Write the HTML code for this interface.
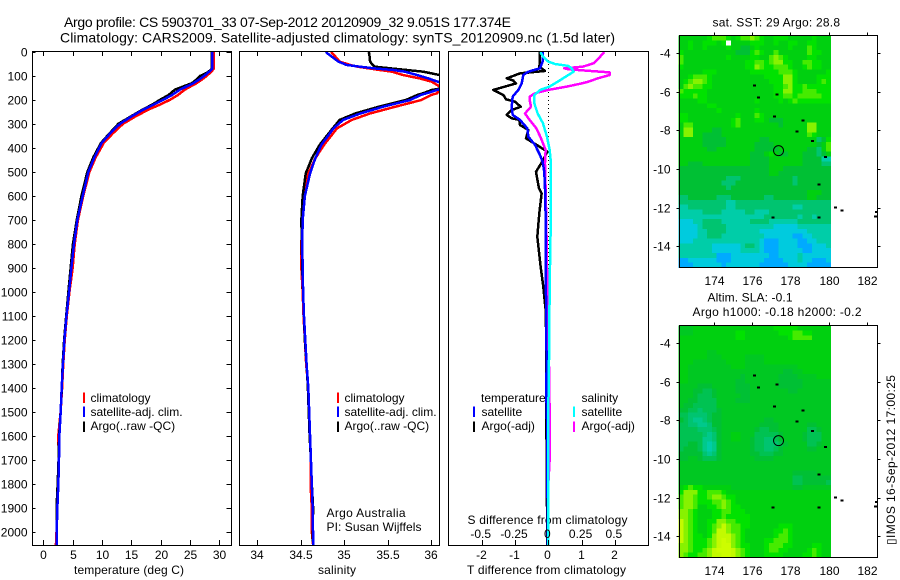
<!DOCTYPE html>
<html><head><meta charset="utf-8"><title>Argo profile</title>
<style>
html,body{margin:0;padding:0;background:#fff}
svg{display:block}
text{font-family:"Liberation Sans","DejaVu Sans",sans-serif;font-size:12px;fill:#000}
</style></head>
<body>
<svg id="chart" xmlns="http://www.w3.org/2000/svg" width="900" height="580" viewBox="0 0 900 580">
<rect width="900" height="580" fill="#fff"/>
<text x="64" y="27" style="font-size:14px" textLength="447">Argo profile: CS 5903701_33 07-Sep-2012 20120909_32 9.051S 177.374E</text>
<text x="60" y="42.5" style="font-size:14px" textLength="555">Climatology: CARS2009. Satellite-adjusted climatology: synTS_20120909.nc (1.5d later)</text>
<text x="74" y="574" textLength="110">temperature (deg C)</text>
<text x="318" y="574" textLength="38">salinity</text>
<text x="467" y="574" textLength="159">T difference from climatology</text>
<text x="467.5" y="524" textLength="160">S difference from climatology</text>
<text x="326.5" y="517" textLength="79">Argo Australia</text>
<text x="326.5" y="531" textLength="95">PI: Susan Wijffels</text>
<text x="712.5" y="26.5" textLength="127.5">sat. SST: 29 Argo: 28.8</text>
<text x="707.5" y="301.5" textLength="85">Altim. SLA: -0.1</text>
<text x="692.5" y="316" textLength="169">Argo h1000: -0.18 h2000: -0.2</text>
<text transform="translate(895,545) rotate(-90)" x="0" y="0" textLength="170">▯IMOS 16-Sep-2012 17:00:25</text>
</svg>
<script>
// ---------- profile data ----------
const depthTicks = [0,100,200,300,400,500,600,700,800,900,1000,1100,1200,1300,1400,1500,1600,1700,1800,1900,2000];
const tempTicks = [0,5,10,15,20,25,30];
const salTicks = [34,34.5,35,35.5,36];
const salTickLabels = ['34','34.5','35','35.5','36'];
const tDiffTicks = [-2,-1,0,1,2];
const sDiffTicks = [-0.5,-0.25,0,0.25,0.5];
const sDiffTickLabels = ['-0.5','-0.25','0','0.25','0.5'];

const tempDepths = [0,30,60,70,85,100,115,130,157,180,199,220,240,270,299,340,379,440,500,600,700,800,900,1000,1100,1200,1300,1400,1500,1600,1700,1800,1900,2000,2054];
const tempClim = [29.05,29.05,29.05,29.05,28.5,27.8,27.0,26.1,24.1,22.9,21.6,19.8,17.9,15.6,13.6,11.8,10.3,8.9,7.85,6.8,5.9,5.35,5.0,4.45,4.0,3.65,3.4,3.2,2.95,2.55,2.65,2.5,2.35,2.25,2.15];
const tempArgo = [28.7,28.7,28.7,28.7,28.0,26.7,26.1,25.3,22.4,21.3,19.9,18.5,16.9,14.8,12.8,11.25,9.83,8.5,7.5,6.5,5.7,5.05,4.66,4.27,3.9,3.55,3.3,3.15,2.95,2.7,2.6,2.45,2.25,2.25,2.25];
const tempSat = [28.8,28.8,28.8,28.8,28.11,27.38,26.53,25.56,23.29,21.87,20.45,18.75,17.04,14.94,13.07,11.36,9.94,8.69,7.67,6.71,5.8,5.23,4.78,4.38,3.95,3.6,3.35,3.13,2.96,2.73,2.67,2.56,2.39,2.28,2.28];

const salDepths = [0,6,40,54,61,68,75,82,96,110,124,144,158,172,178,200,228,256,283,318,387,443,506,600,700,800,900,1000,1100,1200,1300,1400,1500,1600,1700,1800,1900,2000,2054];
const salClim = [34.85,34.87,34.95,35.07,35.15,35.28,35.41,35.55,35.68,35.87,36.01,36.10,36.10,36.07,36.01,35.89,35.59,35.30,35.09,34.92,34.77,34.67,34.59,34.54,34.52,34.51,34.51,34.525,34.535,34.55,34.565,34.59,34.595,34.61,34.62,34.615,34.63,34.63,34.645];
const salArgo = [35.28,35.29,35.30,35.33,35.35,35.53,35.72,35.91,36.10,36.33,36.41,36.26,36.01,35.91,35.85,35.71,35.40,35.13,34.95,34.87,34.72,34.63,34.56,34.525,34.51,34.515,34.52,34.53,34.54,34.55,34.57,34.585,34.595,34.605,34.62,34.63,34.645,34.64,34.645];
const salSat = [34.79,34.81,34.935,35.03,35.18,35.34,35.57,35.70,35.84,35.97,36.08,36.22,36.07,35.95,35.89,35.76,35.45,35.19,34.99,34.88,34.74,34.67,34.61,34.55,34.525,34.52,34.525,34.53,34.54,34.555,34.57,34.59,34.60,34.61,34.62,34.63,34.64,34.644,34.647];

const tDiffArgoDepths = [0,40,61,79,89,110,119,131,158,179,197,207,228,242,262,276,283,304,325,360,387,415,450,499,568,589,672,769,894,978,1075,1200,1500,2054];
const tDiffArgo = [-0.25,-0.25,-0.27,-0.10,-0.85,-1.25,-1.05,-0.97,-1.65,-1.35,-1.27,-1.0,-0.83,-1.10,-1.25,-1.10,-0.87,-0.85,-0.60,-0.67,-0.35,-0.03,-0.15,-0.37,-0.28,-0.2,-0.27,-0.33,-0.23,-0.15,-0.08,-0.06,-0.06,-0.03];
const tDiffSatDepths = [0,40,68,82,96,131,158,186,228,262,283,318,353,387,429,457,500,600,800,1000,1300,1400,1500,1550,2054];
const tDiffSat = [-0.17,-0.17,-0.25,-0.60,-0.75,-0.80,-0.90,-1.07,-1.10,-1.07,-0.85,-0.63,-0.60,-0.40,-0.25,-0.17,-0.12,-0.09,-0.07,-0.07,-0.05,-0.06,-0.05,-0.03,-0.02];
const sDiffArgoDepths = [0,19,47,61,68,72,85,96,110,124,131,144,158,172,186,200,228,256,276,318,353,408,464,575,700,900,1100,1300,1500,1600,1700,1800,2054];
const sDiffArgo = [0.42,0.39,0.34,0.26,0.12,0.15,0.46,0.46,0.37,0.30,0.25,0.14,0,-0.10,-0.14,-0.14,-0.13,-0.175,-0.15,-0.09,-0.06,-0.02,-0.025,-0.02,-0.015,-0.01,0,0.005,0.01,0.012,0.01,0,0];
const sDiffSatDepths = [0,19,40,50,58,68,82,96,117,144,158,179,214,256,297,353,408,464,575,700,800,1000,1300,1500,2054];
const sDiffSat = [-0.06,-0.04,0,0.05,0.15,0.175,0.19,0.15,0.09,0.01,-0.06,-0.105,-0.105,-0.08,-0.04,-0.01,0.01,0.02,0.02,0.02,0.015,0.01,0.005,0,0];

// ---------- map data ----------
const mapLonTicks = [174,176,178,180,182];
const mapLatTicks = [-4,-6,-8,-10,-12,-14];
const floatLon = 177.374;
const floatLat = -9.051;
const islandLons = [176.10,177.29,176.31,177.15,178.67,178.34,179.17,179.85,179.51,177.07,179.5,180.37,180.71,182.46,182.51];
const islandLats = [-5.67,-6.14,-6.31,-7.29,-7.48,-8.05,-8.55,-9.38,-10.79,-12.5,-12.5,-12.0,-12.16,-12.47,-12.23];

// colour levels per 0.25 degree cell, north to south (null = no data)
const sstGrid = [
[5,5,5,5,5,5,6,7,7,7,6,5,6,7,7,8,7,6,5,5,6,6,6,5,5,5,5,5,6,5,5,5],
[5,5,6,5,5,6,6,6,5,6,null,5,5,5,5,6,6,6,5,5,6,5,5,6,6,5,5,6,6,5,5,5],
[5,5,6,5,5,6,5,5,5,5,6,5,5,4,4,5,6,5,5,5,5,5,5,6,5,5,5,7,6,5,5,5],
[6,5,5,5,5,5,5,5,5,5,5,5,4,4,4,6,7,6,5,5,7,5,5,5,5,5,5,7,6,6,5,5],
[7,5,5,5,5,5,5,5,5,5,6,5,5,5,5,6,6,5,5,7,8,7,6,5,5,5,5,6,6,5,5,5],
[7,5,5,5,5,5,5,5,5,5,5,5,5,5,6,6,7,7,6,7,8,8,6,6,5,5,7,7,6,6,5,5],
[6,5,5,5,5,5,5,5,5,5,5,5,5,5,6,6,8,7,6,6,7,7,7,6,5,5,6,7,6,6,5,5],
[5,5,5,5,5,6,6,6,5,5,5,5,5,5,5,6,6,6,6,6,6,7,7,7,6,5,5,5,5,5,5,6],
[5,5,6,7,7,7,6,5,5,5,5,5,5,5,5,5,5,5,6,6,6,6,8,8,6,5,5,5,5,6,6,6],
[5,6,7,8,8,7,6,5,5,5,5,5,5,5,5,5,5,5,5,6,6,6,8,8,6,5,5,5,5,6,7,6],
[5,7,8,7,7,6,6,5,5,5,5,5,5,5,5,5,5,5,5,5,6,6,7,8,6,6,7,6,6,6,6,6],
[7,6,6,6,6,6,5,5,5,5,5,5,5,5,5,5,5,5,5,5,6,6,8,8,6,6,7,7,7,6,6,6],
[6,6,6,7,6,6,5,5,5,5,5,5,5,5,5,5,5,5,5,5,6,6,7,7,6,7,7,7,7,7,6,6],
[5,5,5,5,6,6,5,5,5,5,5,5,5,5,5,5,6,5,5,5,5,6,5,6,7,6,6,6,6,6,6,6],
[5,5,5,5,5,5,6,6,5,5,5,5,5,5,5,5,5,5,5,5,5,5,5,5,5,5,5,5,5,5,5,5],
[5,5,5,5,5,5,5,5,6,5,5,5,5,5,5,5,6,5,5,5,5,5,5,5,5,5,5,5,5,5,5,5],
[6,6,5,5,5,5,5,5,5,5,5,5,6,5,5,5,7,6,5,5,5,5,5,5,5,5,5,5,5,5,5,5],
[6,6,5,5,5,5,5,5,5,5,5,6,7,5,5,5,6,6,5,4,4,4,5,5,5,5,5,5,5,5,5,5],
[5,7,7,5,5,5,5,5,5,5,5,6,7,5,5,5,5,5,5,5,5,4,5,5,5,5,5,8,8,5,5,5],
[5,8,8,5,5,5,5,4,4,5,5,5,5,5,5,5,5,5,5,5,5,5,5,5,5,5,5,8,8,5,5,5],
[5,8,8,5,5,4,4,4,4,5,5,5,5,5,5,5,5,5,5,5,5,5,5,5,5,5,5,7,6,5,5,5],
[5,5,5,5,5,4,4,4,4,4,5,5,5,5,5,5,5,4,4,5,5,5,5,5,5,5,5,5,5,3,4,6],
[5,5,5,5,5,4,4,4,4,4,5,5,5,5,5,5,4,4,4,4,5,5,5,5,5,5,5,5,5,4,5,7],
[5,5,5,5,5,5,4,4,5,5,5,5,5,5,5,5,4,4,4,4,4,5,5,5,5,5,5,4,4,3,5,7],
[5,5,5,5,5,5,5,5,5,5,5,5,5,5,5,4,4,4,5,6,5,4,4,5,5,5,4,4,4,3,4,5],
[5,5,5,5,5,5,5,5,5,5,5,5,5,5,5,4,4,4,4,5,5,5,5,5,5,5,4,4,4,4,2,2],
[5,5,4,4,4,5,5,5,5,5,5,5,5,5,5,4,4,4,4,5,5,5,5,5,5,5,4,4,4,4,3,3],
[4,4,4,4,4,4,4,4,4,4,4,4,4,4,4,4,4,4,4,5,5,5,4,4,4,4,4,4,4,4,4,4],
[4,4,4,4,4,4,4,4,4,4,4,4,4,4,4,4,4,4,4,5,5,4,4,4,4,4,4,4,4,4,4,4],
[4,4,4,4,4,4,4,4,4,4,3,3,3,4,4,4,4,4,4,4,4,4,4,4,3,4,4,4,4,4,4,4],
[4,4,4,4,4,4,4,4,4,3,3,3,4,4,4,4,4,4,4,4,4,4,4,4,3,4,4,4,4,4,4,4],
[4,4,4,4,4,4,4,4,4,4,3,4,4,4,4,4,4,4,4,4,4,4,4,4,4,4,4,4,4,4,4,4],
[4,4,4,4,4,4,4,4,4,4,4,4,4,4,4,4,4,4,4,4,4,4,4,4,4,4,4,5,5,5,4,4],
[3,3,4,4,4,4,4,4,3,3,3,4,4,4,4,4,4,4,3,3,4,4,4,4,4,4,4,5,5,4,4,4],
[3,3,3,3,3,3,3,3,3,3,2,2,3,3,3,3,3,3,3,3,3,3,3,3,3,3,3,3,3,3,3,3],
[2,2,3,3,3,3,3,3,3,3,2,2,3,3,3,3,3,3,3,3,3,3,3,3,2,2,3,3,3,3,3,3],
[2,2,2,2,2,3,3,3,3,2,2,2,2,2,3,3,2,2,2,3,3,3,3,3,3,3,3,3,3,3,3,3],
[2,2,2,2,2,2,2,2,2,2,2,2,2,2,2,2,2,2,3,3,3,3,3,3,3,2,3,3,2,3,3,3],
[1,1,1,2,2,3,3,3,3,2,2,2,2,2,2,3,3,3,3,2,2,2,2,2,2,3,3,3,3,3,3,3],
[1,1,1,1,2,3,3,3,3,3,2,2,2,2,2,2,2,2,2,2,1,1,1,1,1,2,2,2,2,2,2,2],
[1,1,1,1,2,2,3,3,3,3,2,2,2,2,2,2,2,1,1,1,1,1,1,1,1,1,1,2,2,2,2,2],
[1,1,1,1,2,2,3,3,3,2,2,2,2,2,2,2,2,2,1,1,1,1,1,1,0,0,1,1,2,2,2,2],
[1,1,1,2,2,2,2,2,2,2,2,2,2,2,2,2,2,1,0,0,0,1,1,1,1,0,0,1,1,2,2,2],
[2,2,2,2,2,2,2,1,1,1,1,1,1,2,3,3,2,1,0,0,0,1,1,1,1,0,0,0,1,1,1,2],
[2,2,2,2,2,2,2,1,1,1,1,1,1,2,2,2,2,1,0,0,0,1,1,1,1,1,0,0,1,1,1,1],
[2,2,2,2,2,2,2,2,0,0,0,1,1,1,1,1,1,1,1,0,0,1,1,1,1,2,1,1,1,1,1,1],
[0,0,1,1,1,1,1,1,0,0,0,1,1,1,1,1,1,1,0,0,0,0,1,1,1,2,1,1,0,0,0,1],
[0,0,0,1,1,1,1,1,1,0,1,1,1,1,1,1,1,0,0,0,0,0,0,1,1,1,1,0,0,0,0,0]
];
const slaGrid = [
[4.5,4.5,4.5,5,5,5,5,5,5,5,5,5,5,5,5,5,5,5,5,5,6,6,6,6,6,5,5,5,5,5,5,5],
[4.5,4.5,4.5,5,5,5,5,5,5,5,5,5,6,6,5,5,5,5,5,5,5,6,6,6,7,7,6,6,5,5,5,5],
[5,5,5,5,5,5,5,5,5,5,5,5,6,6,5,5,5,5,5,5,5,5,5,6,7,7,7,7,5,5,5,5],
[5,5,5,5,5,5,5,5,5,5,5,5,5,5,5,5,5,5,5,5,5,5,5,5,5,5,5,5,5,5,5,5],
[5,5,5,5,5,5,5,5,5,5,5,5,5,5,5,5,5,5,5,5,5,5,5,5,5,5,5,5,5,5,5,5],
[5,5,5,5,5,5,4.5,4.5,5,5,5,5,5,5,5,5,5,5,5,5,5,5,5,5,5,5,5,5,5,5,5,5],
[5,5,5,5,5,5,4.5,4.5,4.5,5,5,5,5,5,4.5,4.5,4.5,4.5,5,5,5,5,5,5,5,5,5,5,5,5,5,5],
[5,5,5,4.5,4.5,4.5,4.5,4.5,4.5,4.5,5,5,5,5,4.5,4.5,4.5,4.5,5,5,5,5,5,5,5,5,5,5,5,5,5,5],
[5,5,4.5,4.5,4.5,4.5,4.5,4.5,4.5,4.5,4.5,5,5,5,4.5,4.5,4.5,4.5,4.5,4.5,4.5,4.5,4.5,4.5,4.5,5,5,5,5,5,5,5],
[5,5,4.5,4.5,4.5,4.5,4.5,4.5,4.5,4.5,4.5,4.5,4.5,4.5,4.5,4.5,4.5,4.5,4.5,4.5,4.5,4.5,4,4,4.5,4.5,5,5,5,5,5,5],
[5,5,4.5,4.5,4.5,4.5,4.5,4.5,4.5,4.5,4.5,4.5,4.5,4,4.5,4.5,4.5,4.5,4.5,4.5,4.5,4,4,4,4,4.5,4.5,4.5,4.5,5,5,5],
[5,5,4.5,4.5,4.5,4.5,4.5,4.5,4.5,4.5,4.5,4.5,4,4,4.5,4.5,4.5,4.5,4.5,4.5,4.5,4,4,4,4,4,4.5,4.5,4.5,4.5,4.5,4.5],
[4.5,4.5,4.5,4.5,4,4,4,4.5,4.5,4.5,4.5,4.5,4,4,4,4.5,4.5,4.5,4.5,4.5,4.5,4,4,4,4,4,4.5,4.5,4.5,4.5,4.5,4.5],
[4.5,4.5,4.5,4,4,3.5,3.5,4,4.5,4.5,4.5,4.5,4,4,4,4.5,4.5,4.5,4.5,4.5,4.5,4.5,4.5,4,4,4.5,4.5,4.5,4.5,4.5,4.5,4.5],
[4.5,4.5,4.5,4,3.5,3.5,3.5,4,4.5,4.5,4.5,4.5,4.5,4,4,4.5,4.5,4.5,4.5,4.5,4.5,4.5,4.5,4.5,4.5,4.5,4.5,4.5,4.5,4.5,4.5,4.5],
[4.5,4.5,4,4,3.5,3.5,3.5,3.5,4.5,4.5,4.5,4.5,4,4,4,4.5,4.5,4.5,4.5,4.5,4.5,4.5,4.5,4.5,4.5,4.5,4.5,4.5,4.5,4.5,4.5,4.5],
[4.5,4,4,3.5,3.5,3.5,3.5,3.5,4.5,4.5,4.5,4.5,4.5,4.5,4.5,4.5,4.5,4.5,4.5,4.5,4.5,4.5,4.5,4.5,4.5,4.5,4.5,4.5,4.5,4.5,4.5,4.5],
[4,4,3.5,3.5,3,3.5,3.5,3.5,4,4.5,4.5,4.5,4.5,4.5,4.5,4.5,4.5,4.5,4.5,4.5,4.5,4.5,4.5,4.5,4.5,4.5,4.5,4.5,4.5,4.5,4.5,4.5],
[3.5,3.5,3,3,3,3,3.5,4,4,4.5,4.5,4.5,4.5,4.5,4.5,4.5,4.5,4.5,4.5,4.5,4.5,4.5,4.5,4.5,4.5,4.5,4.5,4.5,4.5,4.5,4.5,4.5],
[4,3.5,3,2.5,2.5,3,3.5,4,4,4.5,4.5,4.5,4.5,4.5,4.5,4.5,4.5,4.5,4,4,4.5,4.5,4.5,4.5,4.5,4.5,4.5,4.5,4.5,4.5,4.5,4.5],
[3.5,3.5,3,3,2.5,2.5,3,4,4,4.5,4.5,4.5,4.5,4.5,4.5,4.5,4.5,4,4,4,4,4.5,4.5,4.5,4.5,4.5,4.5,4,4,4.5,4.5,4.5],
[3.5,3.5,3.5,3.5,3,3,3,3.5,4,4.5,4.5,4.5,4.5,4.5,4.5,4.5,4,3.5,3.5,4,4,4.5,4.5,4.5,4.5,4.5,4.5,3.5,3.5,4,4.5,4.5],
[3.5,3.5,3.5,3.5,3.5,3,2.5,3,4,4.5,4.5,5,5,4.5,4.5,4.5,3.5,3.5,3.5,3.5,3.5,4,4.5,4.5,4.5,4.5,4,3.5,3.5,3.5,4.5,4.5],
[3.5,3.5,3.5,3.5,3.5,2.5,2.5,3,4,4.5,4.5,5,5,4.5,4.5,4,3.5,3.5,3,3,3.5,4,4.5,4.5,4.5,4.5,4,3.5,3.5,3.5,4.5,4.5],
[3.5,3.5,4,4,3.5,2.5,2,2.5,4,4.5,4.5,4.5,4.5,4.5,4.5,4,3.5,3.5,3,3,3,3.5,4,4.5,4.5,4.5,4.5,3.5,3.5,4,4.5,4.5],
[3.5,4,4,4,3.5,2.5,2,2.5,4,4.5,4.5,4.5,4.5,4.5,4.5,4,3.5,3.5,3,3,3.5,4,4.5,4.5,4.5,4.5,4.5,4,4,4.5,4.5,4.5],
[4,4,4,4,4,3,2.5,3,4,4.5,4.5,4.5,4.5,4.5,4.5,4,4,3.5,3.5,3.5,4,4,4.5,4.5,4.5,4.5,4.5,4.5,4.5,4.5,4.5,4.5],
[4,4,4.5,4.5,4,3.5,3.5,3.5,4,4.5,4.5,4.5,4.5,4.5,4.5,4.5,4,4,4,4,4.5,4.5,4.5,4.5,4.5,4.5,4.5,4.5,4.5,4.5,4.5,4.5],
[4.5,4.5,4.5,4.5,4.5,4.5,4.5,4.5,4.5,4.5,4.5,4.5,4.5,4.5,4.5,4.5,4.5,4.5,4.5,4.5,4.5,4.5,4.5,4.5,4.5,4.5,4.5,4.5,4.5,4.5,4.5,4.5],
[4.5,4.5,4.5,4.5,4.5,4.5,4.5,4.5,4.5,4.5,4.5,4.5,4.5,4.5,4.5,4.5,4.5,4.5,4.5,4.5,4.5,4.5,4.5,4.5,4.5,4.5,4.5,4.5,4.5,4.5,4.5,4.5],
[4.5,4.5,4.5,4.5,4.5,4.5,4.5,4.5,4.5,4.5,4.5,4.5,4.5,4.5,4.5,4.5,4.5,4.5,4.5,4.5,4.5,4.5,4.5,4.5,4,4,4,4,4,4.5,4.5,4.5],
[4.5,4.5,4.5,4.5,4.5,4.5,4.5,4.5,4.5,4.5,4.5,4.5,4.5,4.5,4.5,4.5,4.5,4.5,4.5,4.5,4.5,4.5,4.5,4.5,3.5,3.5,4,4,4,4,4,4],
[4.5,4.5,4.5,4.5,4.5,4.5,4.5,4.5,4.5,4.5,4.5,4.5,4.5,4.5,4.5,4.5,4.5,4.5,4.5,4.5,4.5,4.5,4.5,4.5,3.5,3.5,4,4,4,4,4,3.5],
[5,6,7,6,6,5,5,5,5,5,5,4.5,4.5,4.5,4.5,4.5,4.5,4.5,4.5,4.5,4.5,4.5,4.5,4.5,4,4,4.5,4.5,4.5,4.5,4.5,4.5],
[6,8,8,8,6,6,7,7,7,6,5,5,5,5,5,5,5,5,5,5,5,5,5,5,5,5,5,5,5,5,5,5],
[7,8,8,7,6,6,7,8,8,7,6,6,5,5,5,5,5,5,5,5,5,5,5,5,5,5,5,5,5,5,5,5],
[7,8,8,7,6,6,6,7,7,8,7,6,5,5,5,5,5,5,5,5,5,5,5,5,5,5,5,5,5,5,5,5],
[7,8,8,7,5,5,6,6,7,8,7,6,6,5,5,5,5,5,5,5,5,5,5,5,5,5,5,5,5,5,5,5],
[8,8,7,6,5,5,5,6,6,7,7,6,6,6,5,5,5,5,5,5,5,5,5,5,5,5,5,5,5,5,5,5],
[8,8,7,6,5,5,5,6,6,7,6,6,6,6,6,5,5,5,5,5,5,5,5,5,5,5,5,5,5,5,5,5],
[9,8,7,6,5,5,6,6,8,8,7,7,6,6,6,5,5,5,5,5,5,5,5,5,5,5,5,5,5,5,5,5],
[9,8,7,6,5,5,6,7,8,9,8,7,7,6,6,5,5,5,5,5,5,6,6,6,5,5,5,5,5,5,5,5],
[9,8,7,6,5,5,6,7,9,9,8,7,7,6,5,5,5,5,5,5,6,6,7,6,5,5,5,5,5,5,5,5],
[9,8,7,6,6,5,6,8,9,9,9,8,7,6,5,5,5,5,5,5,6,7,7,6,5,5,5,5,5,5,5,5],
[9,8,7,6,6,6,7,8,9,9.5,9,8,7,6,5,5,5,5,6,6,7,7,7,6,5,5,5,5,5,5,5,5],
[8,8,7,6,6,6,7,8,9,9.5,9.5,8,7,6,6,5,5,5,6,7,7,7,6,6,5,5,5,5,6,6,5,5],
[8,8,7,6,6,7,8,9,9.5,9.5,9.5,9,8,7,6,5,5,5,6,7,7,6,6,5,5,5,5,6,7,6,5,5],
[8,7,6,6,7,7,8,9,9,9.5,9.5,9,8,7,6,5,5,5,6,6,6,6,5,5,5,5,6,6,7,6,5,5]
];

// ---------- axis layout ----------
const topY = 52, bottomY = 545;
const yD = d => topY + d * 0.24;
const xTemp = v => 43.3 + v * 5.87;
const xSal = v => 257 + (v - 34) * 87;
const xTd = v => 548.3 + v * 33.3;
const xSd = v => 548.3 + v * 133.2;
const lonX = lon => 714.3 + (lon - 174) * 19.04;
const latY = (lat, offset) => offset + (-4 - lat) * 19.33;
const NS = 'http://www.w3.org/2000/svg';
const svg = document.getElementById('chart');

function mk(tag, attrs, parent) {
  const e = document.createElementNS(NS, tag);
  for (const k in attrs) e.setAttribute(k, attrs[k]);
  (parent || svg).appendChild(e);
  return e;
}
function seg(x1, y1, x2, y2, parent) {
  const l = mk('line', {x1: x1, y1: y1, x2: x2, y2: y2, stroke: '#000', 'stroke-width': 1, 'shape-rendering': 'crispEdges'}, parent);
  
  
  return l;
}
function label(str, x, y, anchor, name) {
  const t = mk('text', {x: x, y: y, 'text-anchor': anchor});
  t.textContent = str;
  
  
  return t;
}
function frame(x0, y0, x1, y1, name) {
  const r = mk('rect', {x: x0, y: y0, width: x1 - x0, height: y1 - y0, fill: 'none', stroke: '#000', 'stroke-width': 1, 'shape-rendering': 'crispEdges'});
  
  
}
function clipFor(id, x0, y0, x1, y1) {
  const c = mk('clipPath', {id: id});
  mk('rect', {x: x0, y: y0, width: x1 - x0, height: y1 - y0}, c);
}
function profile(xf, vals, depths, color, width, clip, name) {
  const pts = vals.map((v, i) => (i ? 'L' : 'M') + xf(v).toFixed(2) + ' ' + yD(depths[i]).toFixed(2)).join('');
  const p = mk('path', {d: pts, fill: 'none', stroke: color, 'stroke-width': width, 'stroke-linejoin': 'round', 'shape-rendering': 'crispEdges', 'clip-path': 'url(#' + clip + ')'});
  
  
}
function legendKey(x, y, color, name) {
  const r = mk('rect', {x: x, y: y, width: 2, height: 10.5, fill: color, 'shape-rendering': 'crispEdges'});
  
  
}

// panels
const P1 = [32.5, 231.5], P2 = [239.5, 439.5], P3 = [448.5, 648.5];
clipFor('clip1', P1[0], topY, P1[1], bottomY);
clipFor('clip2', P2[0], topY, P2[1], bottomY);
clipFor('clip3', P3[0], topY, P3[1], bottomY);

profile(xTemp, tempClim, tempDepths, '#ff0000', 2.5, 'clip1', 'temperature-climatology-line');
profile(xTemp, tempArgo, tempDepths, '#000000', 2.5, 'clip1', 'temperature-argo-line');
profile(xTemp, tempSat, tempDepths, '#0000ff', 2.5, 'clip1', 'temperature-satellite-line');
profile(xSal, salClim, salDepths, '#ff0000', 2.5, 'clip2', 'salinity-climatology-line');
profile(xSal, salArgo, salDepths, '#000000', 2.5, 'clip2', 'salinity-argo-line');
profile(xSal, salSat, salDepths, '#0000ff', 2.5, 'clip2', 'salinity-satellite-line');

const zero = mk('line', {x1: xTd(0), y1: topY, x2: xTd(0), y2: bottomY, stroke: '#000', 'stroke-width': 1, 'stroke-dasharray': '1 3', 'shape-rendering': 'crispEdges'});


profile(xTd, tDiffArgo, tDiffArgoDepths, '#000000', 2.5, 'clip3', 't-difference-argo-line');
profile(xSd, sDiffArgo, sDiffArgoDepths, '#ff00ff', 2.5, 'clip3', 's-difference-argo-line');
profile(xTd, tDiffSat, tDiffSatDepths, '#0000ff', 2.5, 'clip3', 't-difference-satellite-line');
profile(xSd, sDiffSat, sDiffSatDepths, '#00ffff', 2.5, 'clip3', 's-difference-satellite-line');

frame(P1[0], topY - 0.5, P1[1], bottomY + 0.5, 'temperature-panel-frame');
frame(P2[0], topY - 0.5, P2[1], bottomY + 0.5, 'salinity-panel-frame');
frame(P3[0], topY - 0.5, P3[1], bottomY + 0.5, 'difference-panel-frame');

depthTicks.forEach(d => {
  const y = Math.round(yD(d)) + 0.5;
  seg(P1[0], y, P1[0] + 3, y);
  seg(P1[1] - 5, y, P1[1], y);
  label(String(d), 27.5, y + 4, 'end', 'depth-tick-label');
});
tempTicks.forEach(v => {
  const x = Math.round(xTemp(v)) + 0.5;
  seg(x, topY, x, topY + 4);
  seg(x, bottomY - 5, x, bottomY);
  label(String(v), x, 559, 'middle', 'temperature-tick-label');
});
salTicks.forEach((v, i) => {
  const x = Math.round(xSal(v)) + 0.5;
  seg(x, topY, x, topY + 4);
  seg(x, bottomY - 5, x, bottomY);
  label(salTickLabels[i], x - 0.5, 559, 'middle', 'salinity-tick-label');
});
tDiffTicks.forEach(v => {
  const x = Math.round(xTd(v)) + 0.5;
  seg(x, topY, x, topY + 4);
  seg(x, bottomY - 5, x, bottomY);
  label(String(v), x - 1, 559, 'middle', 't-difference-tick-label');
});
sDiffTicks.forEach((v, i) => {
  label(sDiffTickLabels[i], xSd(v) - 1, 538, 'middle', 's-difference-tick-label');
});

// legends
function legendSet(keyX, textX, name) {
  legendKey(keyX, 392.5, '#ff0000', name + '-climatology-key');
  label('climatology', textX, 402, 'start', name + '-climatology-label');
  legendKey(keyX, 406.5, '#0000ff', name + '-satellite-key');
  label('satellite-adj. clim.', textX, 416, 'start', name + '-satellite-label');
  legendKey(keyX, 421.5, '#000000', name + '-argo-key');
  label('Argo(..raw -QC)', textX, 430, 'start', name + '-argo-label');
}
legendSet(83, 90.5, 'temperature-legend');
legendSet(337, 344.5, 'salinity-legend');
label('temperature', 481, 402, 'start', 'difference-legend-temperature-heading');
label('salinity', 581.5, 402, 'start', 'difference-legend-salinity-heading');
legendKey(473, 406.5, '#0000ff', 'difference-legend-t-satellite-key');
label('satellite', 481.5, 416, 'start', 'difference-legend-t-satellite-label');
legendKey(473, 421.5, '#000000', 'difference-legend-t-argo-key');
label('Argo(-adj)', 481.5, 430, 'start', 'difference-legend-t-argo-label');
legendKey(573, 406.5, '#00ffff', 'difference-legend-s-satellite-key');
label('satellite', 581.5, 416, 'start', 'difference-legend-s-satellite-label');
legendKey(573, 421.5, '#ff00ff', 'difference-legend-s-argo-key');
label('Argo(-adj)', 581.5, 430, 'start', 'difference-legend-s-argo-label');

// maps
const palette = [[0,170,255],[0,203,222],[0,205,168],[0,196,112],[0,192,52],[0,208,16],[0,226,0],[70,235,0],[135,242,0],[195,250,0],[215,255,0]];
function levelColor(v) {
  const i = Math.min(Math.floor(v), palette.length - 2), f = v - i;
  const c = palette[i].map((a, k) => Math.round(a + (palette[i + 1][k] - a) * f));
  return 'rgb(' + c.join(',') + ')';
}
const cellDeg = 0.25, gridLon0 = 172.12, gridLat0 = -3.1;
function drawMap(grid, offset, name) {
  const g = mk('g', {'shape-rendering': 'crispEdges'});
  
  
  grid.forEach((row, r) => row.forEach((v, c) => {
    const x0 = lonX(gridLon0 + c * cellDeg), x1 = lonX(gridLon0 + (c + 1) * cellDeg);
    const y0 = latY(gridLat0 - r * cellDeg, offset), y1 = latY(gridLat0 - (r + 1) * cellDeg, offset);
    const cell = mk('rect', {x: x0.toFixed(2), y: y0.toFixed(2), width: (x1 - x0 + 0.4).toFixed(2), height: (y1 - y0 + 0.4).toFixed(2), fill: v === null ? '#ffffff' : levelColor(v)}, g);
    
    
  }));
  islandLons.forEach((lon, i) => {
    const dot = mk('rect', {x: (lonX(lon) - 1.5).toFixed(2), y: (latY(islandLats[i], offset) - 1).toFixed(2), width: 3, height: 2, fill: '#000'}, g);
    
    
  });
  const ring = mk('circle', {cx: lonX(floatLon), cy: latY(floatLat, offset), r: 5, fill: 'none', stroke: '#000', 'stroke-width': 1});
  
  
  const fy0 = offset - 17.5, fy1 = fy0 + 232, fx0 = 679.5, fx1 = 877.5;
  frame(fx0, fy0, fx1, fy1, name + '-frame');
  mapLonTicks.forEach(lon => {
    const x = Math.round(lonX(lon)) + 0.5;
    seg(x, fy0 - 3, x, fy0);
    label(String(lon), x, fy1 + 17.5, 'middle', 'map-longitude-label');
  });
  mapLatTicks.forEach(lat => {
    const y = Math.round(latY(lat, offset)) + 0.5;
    seg(fx0 - 3, y, fx0, y);
    seg(fx1, y, fx1 + 3, y);
    label(String(lat), 670.5, y + 4, 'end', 'map-latitude-label');
  });
}
drawMap(sstGrid, 53, 'sst-map');
drawMap(slaGrid, 343, 'sla-map');
</script>
</body></html>
